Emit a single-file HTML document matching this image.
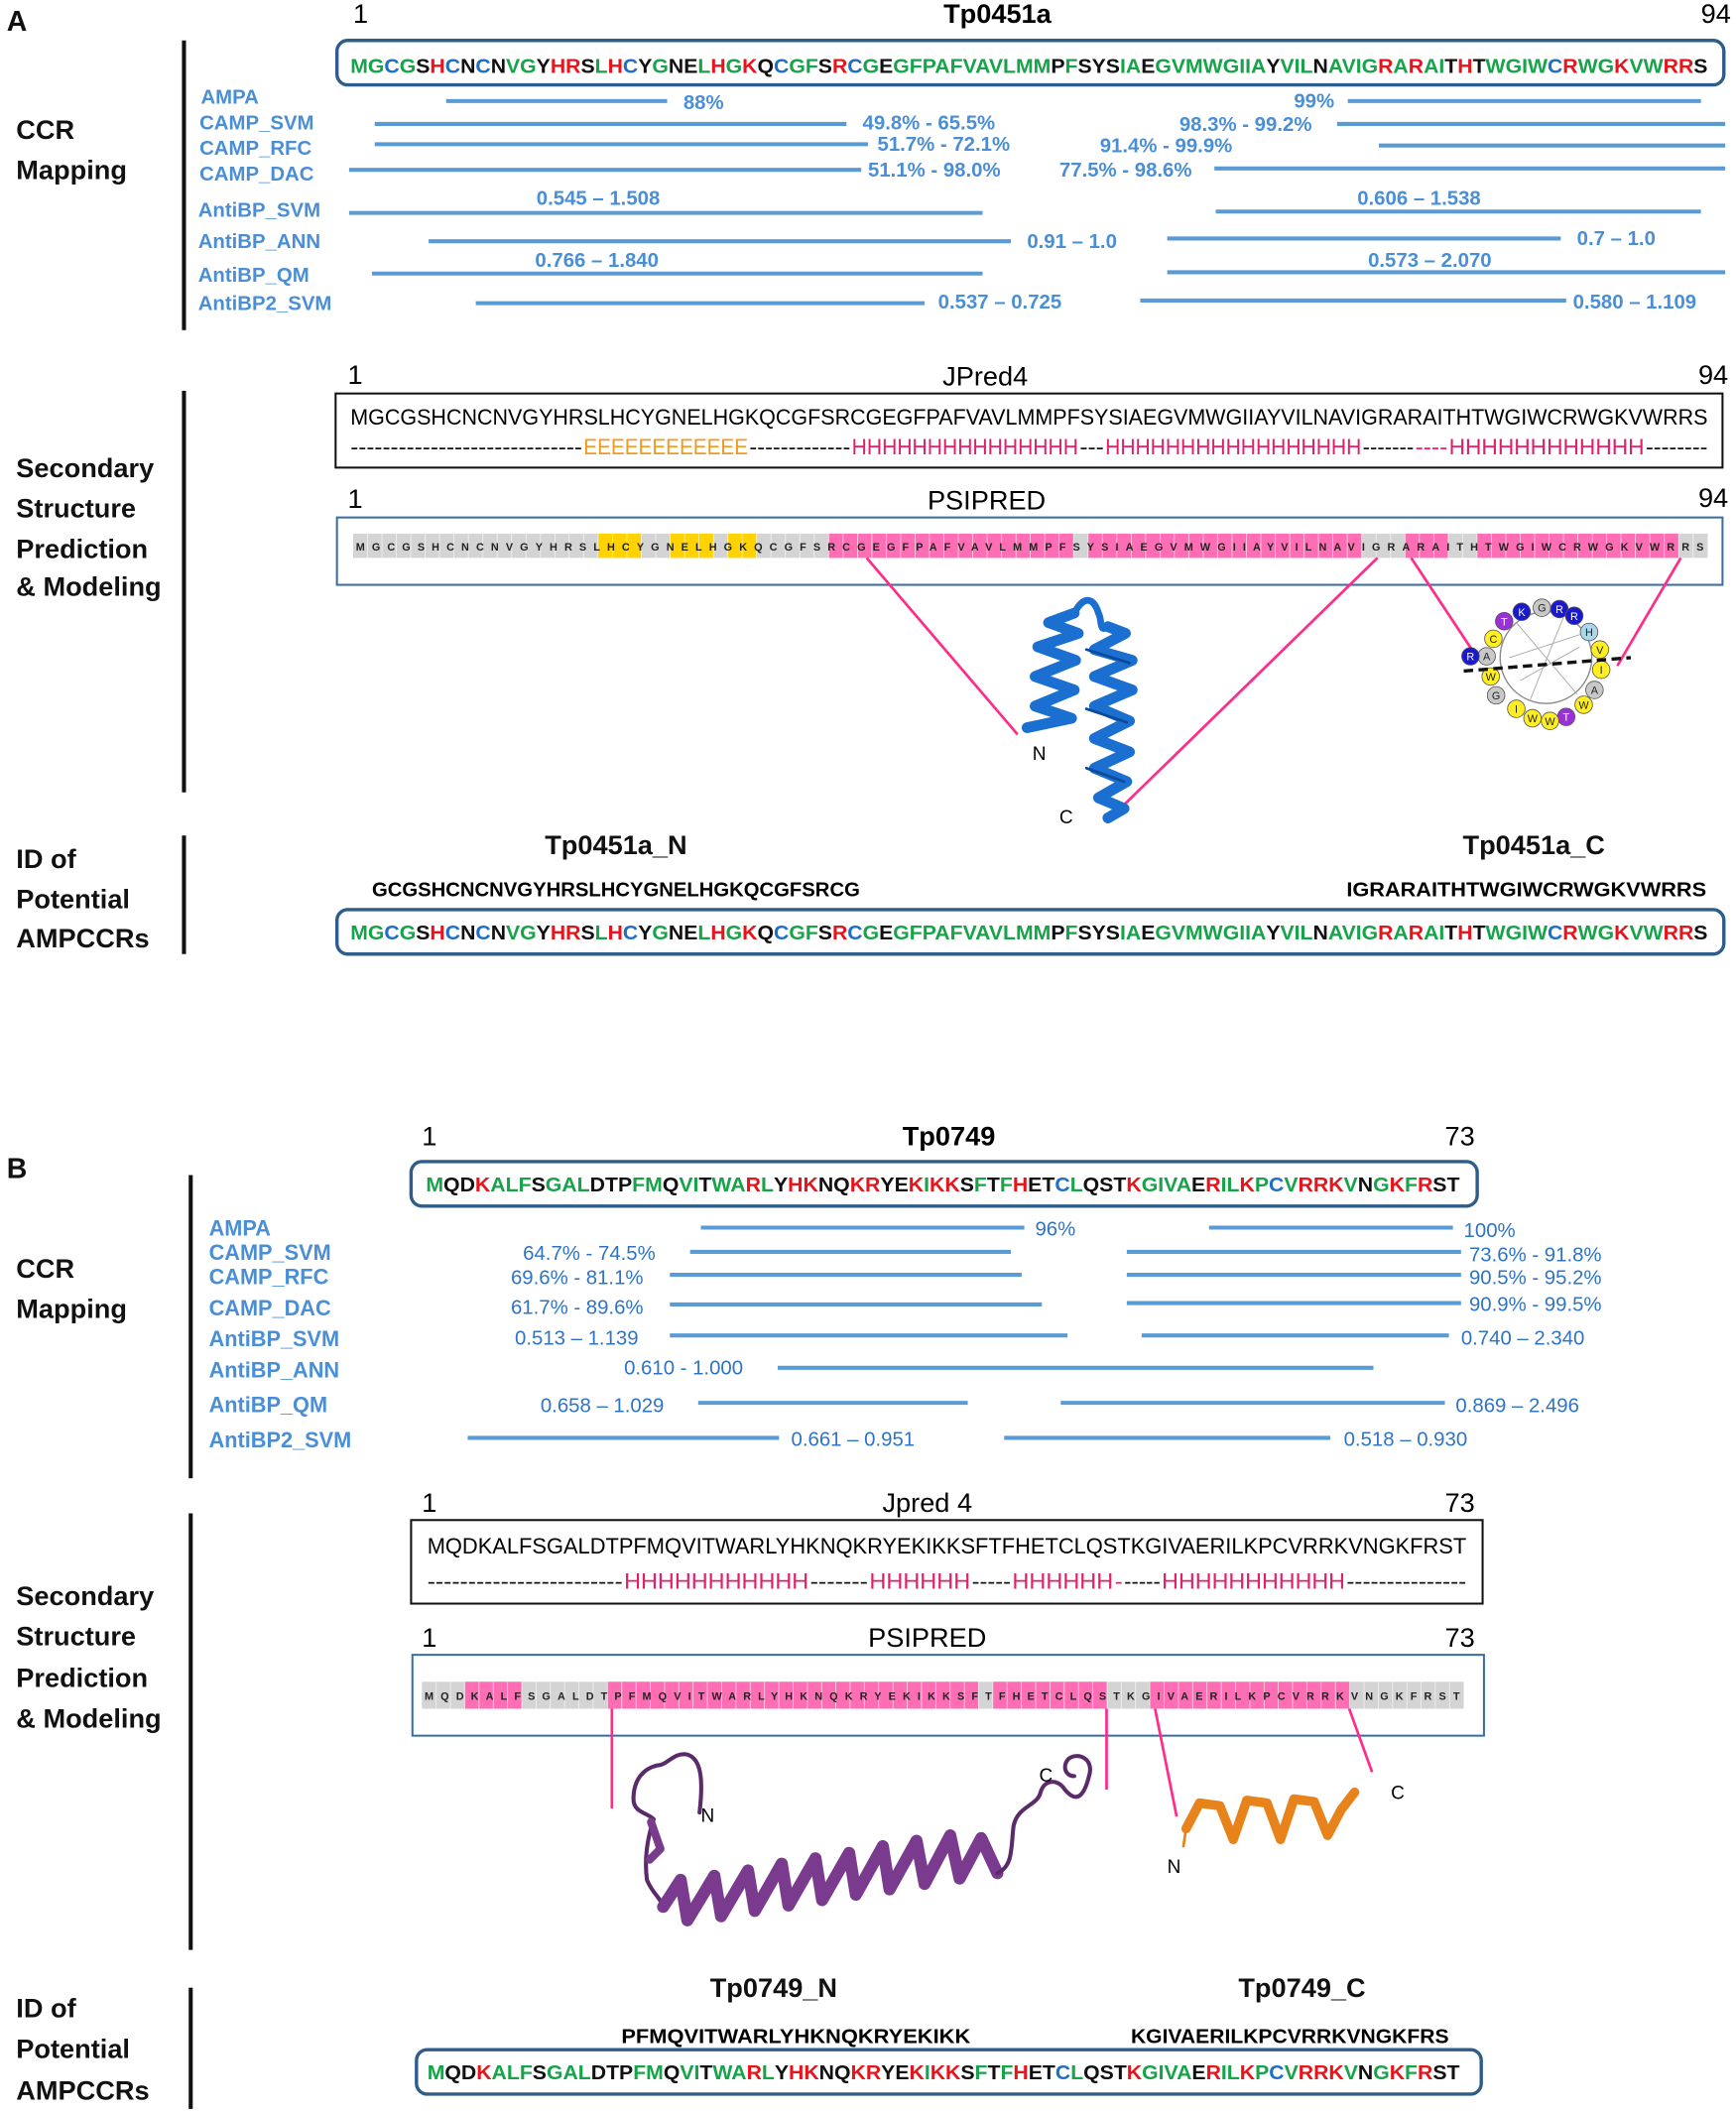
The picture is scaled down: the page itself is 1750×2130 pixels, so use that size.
<!DOCTYPE html>
<html><head><meta charset="utf-8">
<style>
html,body{margin:0;padding:0;background:#fff;}
svg{display:block;}
text{font-family:"Liberation Sans",sans-serif;}
.lab{fill:#4a8fd6;font-weight:bold;font-size:15px;}
.val{fill:#4a8fd6;font-weight:bold;font-size:15px;}
.valb{fill:#2f74c4;font-size:15px;}
.hd{font-weight:bold;font-size:20px;fill:#111;}
.ln{stroke:#5b9bd5;stroke-width:3;}
.g{fill:#17a34a}.r{fill:#e8141c}.b{fill:#1f6fc5}.k{fill:#111}
.cell{font-size:8px;font-weight:bold;fill:#222;}
.mg{stroke:#ff2d8a;stroke-width:2;fill:none;}
.ds{font-size:16px;fill:#111;}
.ee{font-size:16px;fill:#f29a1e;}
.hh{font-size:16px;fill:#e0206a;}
</style></head><body>
<svg width="1750" height="2130" viewBox="0 0 1288 1568" preserveAspectRatio="none" xmlns="http://www.w3.org/2000/svg">

<!-- ============ A ============ -->
<text x="5" y="23" class="hd" style="font-size:21px">A</text>
<text x="262" y="17" font-size="20">1</text>
<text x="740" y="17" font-size="20" font-weight="bold" text-anchor="middle">Tp0451a</text>
<text x="1262" y="17" font-size="20">94</text>
<rect x="250" y="30" width="1029" height="33" rx="8" fill="none" stroke="#2e5d8a" stroke-width="2.5"/>
<text x="260" y="54" font-size="15" font-weight="bold" textLength="1007" lengthAdjust="spacingAndGlyphs"><tspan class="g">MG</tspan><tspan class="b">C</tspan><tspan class="g">G</tspan><tspan class="k">S</tspan><tspan class="r">H</tspan><tspan class="b">C</tspan><tspan class="k">N</tspan><tspan class="b">C</tspan><tspan class="k">N</tspan><tspan class="g">VG</tspan><tspan class="k">Y</tspan><tspan class="r">HR</tspan><tspan class="k">S</tspan><tspan class="g">L</tspan><tspan class="r">H</tspan><tspan class="b">C</tspan><tspan class="k">Y</tspan><tspan class="g">G</tspan><tspan class="k">NE</tspan><tspan class="g">L</tspan><tspan class="r">H</tspan><tspan class="g">G</tspan><tspan class="r">K</tspan><tspan class="k">Q</tspan><tspan class="b">C</tspan><tspan class="g">GF</tspan><tspan class="k">S</tspan><tspan class="r">R</tspan><tspan class="b">C</tspan><tspan class="g">G</tspan><tspan class="k">E</tspan><tspan class="g">GFPAFVAVLMM</tspan><tspan class="k">P</tspan><tspan class="g">F</tspan><tspan class="k">SYS</tspan><tspan class="g">IA</tspan><tspan class="k">E</tspan><tspan class="g">GVMWGIIA</tspan><tspan class="k">Y</tspan><tspan class="g">VIL</tspan><tspan class="k">N</tspan><tspan class="g">AVIG</tspan><tspan class="r">R</tspan><tspan class="g">A</tspan><tspan class="r">R</tspan><tspan class="g">AI</tspan><tspan class="k">T</tspan><tspan class="r">H</tspan><tspan class="k">T</tspan><tspan class="g">WGIW</tspan><tspan class="b">C</tspan><tspan class="r">R</tspan><tspan class="g">WG</tspan><tspan class="r">K</tspan><tspan class="g">VW</tspan><tspan class="r">RR</tspan><tspan class="k">S</tspan></text>

<rect x="135" y="30" width="3" height="215" fill="#111"/>
<text x="12" y="103" class="hd">CCR</text>
<text x="12" y="133" class="hd">Mapping</text>

<text x="149" y="77" class="lab">AMPA</text>
<text x="148" y="96" class="lab">CAMP_SVM</text>
<text x="148" y="115" class="lab">CAMP_RFC</text>
<text x="148" y="134" class="lab">CAMP_DAC</text>
<text x="147" y="161" class="lab">AntiBP_SVM</text>
<text x="147" y="184" class="lab">AntiBP_ANN</text>
<text x="147" y="209" class="lab">AntiBP_QM</text>
<text x="147" y="230" class="lab">AntiBP2_SVM</text>

<g class="ln">
<line x1="331" y1="75" x2="495" y2="75"/><line x1="1000" y1="75" x2="1262" y2="75"/>
<line x1="278" y1="92" x2="628" y2="92"/><line x1="992" y1="92" x2="1280" y2="92"/>
<line x1="278" y1="107" x2="644" y2="107"/><line x1="1023" y1="108" x2="1280" y2="108"/>
<line x1="259" y1="126" x2="639" y2="126"/><line x1="901" y1="125" x2="1280" y2="125"/>
<line x1="259" y1="158" x2="729" y2="158"/><line x1="902" y1="157" x2="1262" y2="157"/>
<line x1="318" y1="179" x2="750" y2="179"/><line x1="866" y1="177" x2="1158" y2="177"/>
<line x1="276" y1="203" x2="729" y2="203"/><line x1="866" y1="202" x2="1280" y2="202"/>
<line x1="353" y1="225" x2="686" y2="225"/><line x1="846" y1="223" x2="1162" y2="223"/>
</g>
<text x="507" y="81" class="val">88%</text><text x="960" y="80" class="val">99%</text>
<text x="640" y="96" class="val">49.8% - 65.5%</text><text x="875" y="97" class="val">98.3% - 99.2%</text>
<text x="651" y="112" class="val">51.7% - 72.1%</text><text x="816" y="113" class="val">91.4% - 99.9%</text>
<text x="644" y="131" class="val">51.1% - 98.0%</text><text x="786" y="131" class="val">77.5% - 98.6%</text>
<text x="398" y="152" class="val">0.545 – 1.508</text><text x="1007" y="152" class="val">0.606 – 1.538</text>
<text x="762" y="184" class="val">0.91 – 1.0</text><text x="1170" y="182" class="val">0.7 – 1.0</text>
<text x="397" y="198" class="val">0.766 – 1.840</text><text x="1015" y="198" class="val">0.573 – 2.070</text>
<text x="696" y="229" class="val">0.537 – 0.725</text><text x="1167" y="229" class="val">0.580 – 1.109</text>

<!-- secondary A -->
<rect x="135" y="290" width="3" height="298" fill="#111"/>
<text x="12" y="354" class="hd">Secondary</text>
<text x="12" y="384" class="hd">Structure</text>
<text x="12" y="414" class="hd">Prediction</text>
<text x="12" y="442" class="hd">&amp; Modeling</text>

<text x="258" y="285" font-size="20">1</text>
<text x="731" y="286" font-size="20" text-anchor="middle">JPred4</text>
<text x="1260" y="285" font-size="20">94</text>
<rect x="249" y="292" width="1029" height="55" fill="none" stroke="#111" stroke-width="1.5"/>
<text x="260" y="315" font-size="16" textLength="1007" lengthAdjust="spacingAndGlyphs">MGCGSHCNCNVGYHRSLHCYGNELHGKQCGFSRCGEGFPAFVAVLMMPFSYSIAEGVMWGIIAYVILNAVIGRARAITHTWGIWCRWGKVWRRS</text>
<text x="260" y="337" class="ds" textLength="172" lengthAdjust="spacingAndGlyphs">-----------------------------</text>
<text x="433" y="337" class="ee" textLength="122" lengthAdjust="spacingAndGlyphs">EEEEEEEEEEEE</text>
<text x="556" y="337" class="ds" textLength="75" lengthAdjust="spacingAndGlyphs">-------------</text>
<text x="632" y="337" class="hh" textLength="168" lengthAdjust="spacingAndGlyphs">HHHHHHHHHHHHHHH</text>
<text x="801" y="337" class="ds" textLength="18" lengthAdjust="spacingAndGlyphs">---</text>
<text x="820" y="337" class="hh" textLength="190" lengthAdjust="spacingAndGlyphs">HHHHHHHHHHHHHHHHH</text>
<text x="1011" y="337" class="ds" textLength="38" lengthAdjust="spacingAndGlyphs">-------</text>
<text x="1050" y="337" class="hh" textLength="24" lengthAdjust="spacingAndGlyphs">----</text>
<text x="1075" y="337" class="hh" textLength="145" lengthAdjust="spacingAndGlyphs">HHHHHHHHHHHH</text>
<text x="1221" y="337" class="ds" textLength="46" lengthAdjust="spacingAndGlyphs">--------</text>

<text x="258" y="377" font-size="20">1</text>
<text x="732" y="378" font-size="20" text-anchor="middle">PSIPRED</text>
<text x="1260" y="376" font-size="20">94</text>
<rect x="250" y="384" width="1028" height="50" fill="none" stroke="#3a6ea5" stroke-width="1.5"/>
<rect x="262" y="396" width="1005" height="18" fill="#d4d4d4"/>
<rect x="443.7" y="396" width="32.1" height="18" fill="#ffd200"/>
<rect x="497.2" y="396" width="32.1" height="18" fill="#ffd200"/>
<rect x="539.9" y="396" width="21.4" height="18" fill="#ffd200"/>
<rect x="614.8" y="396" width="181.7" height="18" fill="#ff6eb4"/>
<rect x="807.2" y="396" width="203.1" height="18" fill="#ff6eb4"/>
<rect x="1042.4" y="396" width="32.1" height="18" fill="#ff6eb4"/>
<rect x="1095.8" y="396" width="149.7" height="18" fill="#ff6eb4"/>
<g stroke="#fff" stroke-width="0.6" opacity="0.7">
<path d="M272.7 396V414M283.4 396V414M294.1 396V414M304.8 396V414M315.5 396V414M326.1 396V414M336.8 396V414M347.5 396V414M358.2 396V414M368.9 396V414M379.6 396V414M390.3 396V414M401 396V414M411.7 396V414M422.3 396V414M433 396V414M443.7 396V414M454.4 396V414M465.1 396V414M475.8 396V414M486.5 396V414M497.2 396V414M507.9 396V414M518.6 396V414M529.3 396V414M540 396V414M550.6 396V414M561.3 396V414M572 396V414M582.7 396V414M593.4 396V414M604.1 396V414M614.8 396V414M625.5 396V414M636.2 396V414M646.9 396V414M657.5 396V414M668.2 396V414M678.9 396V414M689.6 396V414M700.3 396V414M711 396V414M721.7 396V414M732.4 396V414M743.1 396V414M753.8 396V414M764.4 396V414M775.1 396V414M785.8 396V414M796.5 396V414M807.2 396V414M817.9 396V414M828.6 396V414M839.3 396V414M850 396V414M860.7 396V414M871.3 396V414M882 396V414M892.7 396V414M903.4 396V414M914.1 396V414M924.8 396V414M935.5 396V414M946.2 396V414M956.9 396V414M967.6 396V414M978.2 396V414M988.9 396V414M999.6 396V414M1010.3 396V414M1021 396V414M1031.7 396V414M1042.4 396V414M1053.1 396V414M1063.8 396V414M1074.5 396V414M1085.1 396V414M1095.8 396V414M1106.5 396V414M1117.2 396V414M1127.9 396V414M1138.6 396V414M1149.3 396V414M1160 396V414M1170.7 396V414M1181.4 396V414M1192 396V414M1202.7 396V414M1213.4 396V414M1224.1 396V414M1234.8 396V414M1245.5 396V414M1256.2 396V414"/>
</g>
<text x="264" y="408.5" class="cell" textLength="1000" lengthAdjust="spacing">MGCGSHCNCNVGYHRSLHCYGNELHGKQCGFSRCGEGFPAFVAVLMMPFSYSIAEGVMWGIIAYVILNAVIGRARAITHTWGIWCRWGKVWRRS</text>

<line class="mg" x1="643" y1="414" x2="755" y2="545"/>
<line class="mg" x1="1022" y1="414" x2="826" y2="605"/>
<line class="mg" x1="1047" y1="414" x2="1092" y2="482"/>
<line class="mg" x1="1247" y1="414" x2="1200" y2="494"/>

<!-- blue protein -->
<g fill="none" stroke-linecap="round" stroke-linejoin="round">
<path d="M797 455 L778 462 L800 470 L770 480 L798 490 L768 502 L797 512 L768 524 L795 533 L762 540" stroke="#1a6fd0" stroke-width="8"/>
<path d="M797 455 C805 440 812 445 815 455 C818 460 815 470 822 465" stroke="#1a6fd0" stroke-width="5"/>
<path d="M822 465 L835 470 L812 482 L840 490 L812 502 L840 512 L812 524 L838 535 L812 548 L838 558 L812 570 L836 580 L815 592 L834 600 L822 607" stroke="#1a6fd0" stroke-width="8"/>
<path d="M806 482 L838 492 M806 526 L836 536 M806 570 L834 580" stroke="#0d4a9a" stroke-width="2"/>
</g>
<text x="766" y="564" font-size="14">N</text>
<text x="786" y="611" font-size="14">C</text>

<!-- helical wheel -->
<g>
<circle cx="1147" cy="488" r="34" fill="none" stroke="#888" stroke-width="1"/>
<path d="M1125 462 L1170 515 M1120 488 L1175 470 M1135 520 L1160 458 M1128 505 L1172 480" stroke="#aaa" stroke-width="0.7"/>
<g stroke="#555" stroke-width="0.6">
<circle cx="1144" cy="451" r="6.5" fill="#c8c8c8"/><circle cx="1157" cy="452" r="6.5" fill="#1a1acc"/><circle cx="1168" cy="457" r="6.5" fill="#1a1acc"/>
<circle cx="1179" cy="469" r="6.5" fill="#a8d8ec"/><circle cx="1187" cy="482" r="6.5" fill="#ffee22"/><circle cx="1188" cy="497" r="6.5" fill="#ffee22"/>
<circle cx="1183" cy="512" r="6.5" fill="#c8c8c8"/><circle cx="1175" cy="523" r="6.5" fill="#ffee22"/><circle cx="1162" cy="532" r="6.5" fill="#9b30d8"/>
<circle cx="1150" cy="535" r="6.5" fill="#ffee22"/><circle cx="1137" cy="533" r="6.5" fill="#ffee22"/><circle cx="1125" cy="526" r="6.5" fill="#ffee22"/>
<circle cx="1110" cy="516" r="6.5" fill="#c8c8c8"/><circle cx="1106" cy="502" r="6.5" fill="#ffee22"/><circle cx="1103" cy="487" r="6.5" fill="#c8c8c8"/>
<circle cx="1091" cy="487" r="6.5" fill="#1a1acc"/><circle cx="1108" cy="474" r="6.5" fill="#ffee22"/><circle cx="1116" cy="461" r="6.5" fill="#9b30d8"/><circle cx="1129" cy="454" r="6.5" fill="#1a1acc"/>
</g>
<g font-size="8" text-anchor="middle" fill="#222">
<text x="1144" y="454">G</text><text x="1157" y="455" fill="#fff">R</text><text x="1168" y="460" fill="#fff">R</text><text x="1179" y="472">H</text><text x="1187" y="485">V</text><text x="1188" y="500">I</text><text x="1183" y="515">A</text><text x="1175" y="526">W</text><text x="1162" y="535" fill="#fff">T</text><text x="1150" y="538">W</text><text x="1137" y="536">W</text><text x="1125" y="529">I</text><text x="1110" y="519">G</text><text x="1106" y="505">W</text><text x="1103" y="490">A</text><text x="1091" y="490" fill="#fff">R</text><text x="1108" y="477">C</text><text x="1116" y="464" fill="#fff">T</text><text x="1129" y="457" fill="#fff">K</text>
</g>
<line x1="1086" y1="498" x2="1210" y2="488" stroke="#111" stroke-width="2.5" stroke-dasharray="7,4"/>
</g>

<!-- ID A -->
<rect x="135" y="620" width="3" height="88" fill="#111"/>
<text x="12" y="644" class="hd">ID of</text>
<text x="12" y="674" class="hd">Potential</text>
<text x="12" y="703" class="hd">AMPCCRs</text>
<text x="457" y="634" class="hd" text-anchor="middle">Tp0451a_N</text>
<text x="1138" y="634" class="hd" text-anchor="middle">Tp0451a_C</text>
<text x="276" y="665" font-size="15" font-weight="bold" textLength="362" lengthAdjust="spacingAndGlyphs">GCGSHCNCNVGYHRSLHCYGNELHGKQCGFSRCG</text>
<text x="999" y="665" font-size="15" font-weight="bold" textLength="267" lengthAdjust="spacingAndGlyphs">IGRARAITHTWGIWCRWGKVWRRS</text>
<rect x="250" y="675" width="1029" height="33" rx="8" fill="none" stroke="#2e5d8a" stroke-width="2.5"/>
<text x="260" y="697" font-size="15" font-weight="bold" textLength="1007" lengthAdjust="spacingAndGlyphs"><tspan class="g">MG</tspan><tspan class="b">C</tspan><tspan class="g">G</tspan><tspan class="k">S</tspan><tspan class="r">H</tspan><tspan class="b">C</tspan><tspan class="k">N</tspan><tspan class="b">C</tspan><tspan class="k">N</tspan><tspan class="g">VG</tspan><tspan class="k">Y</tspan><tspan class="r">HR</tspan><tspan class="k">S</tspan><tspan class="g">L</tspan><tspan class="r">H</tspan><tspan class="b">C</tspan><tspan class="k">Y</tspan><tspan class="g">G</tspan><tspan class="k">NE</tspan><tspan class="g">L</tspan><tspan class="r">H</tspan><tspan class="g">G</tspan><tspan class="r">K</tspan><tspan class="k">Q</tspan><tspan class="b">C</tspan><tspan class="g">GF</tspan><tspan class="k">S</tspan><tspan class="r">R</tspan><tspan class="b">C</tspan><tspan class="g">G</tspan><tspan class="k">E</tspan><tspan class="g">GFPAFVAVLMM</tspan><tspan class="k">P</tspan><tspan class="g">F</tspan><tspan class="k">SYS</tspan><tspan class="g">IA</tspan><tspan class="k">E</tspan><tspan class="g">GVMWGIIA</tspan><tspan class="k">Y</tspan><tspan class="g">VIL</tspan><tspan class="k">N</tspan><tspan class="g">AVIG</tspan><tspan class="r">R</tspan><tspan class="g">A</tspan><tspan class="r">R</tspan><tspan class="g">AI</tspan><tspan class="k">T</tspan><tspan class="r">H</tspan><tspan class="k">T</tspan><tspan class="g">WGIW</tspan><tspan class="b">C</tspan><tspan class="r">R</tspan><tspan class="g">WG</tspan><tspan class="r">K</tspan><tspan class="g">VW</tspan><tspan class="r">RR</tspan><tspan class="k">S</tspan></text>

<!-- ============ B ============ -->
<text x="5" y="874" class="hd" style="font-size:21px">B</text>
<text x="313" y="850" font-size="20">1</text>
<text x="704" y="850" font-size="20" font-weight="bold" text-anchor="middle">Tp0749</text>
<text x="1072" y="850" font-size="20">73</text>
<rect x="305" y="862" width="791" height="33" rx="8" fill="none" stroke="#2e5d8a" stroke-width="2.5"/>
<text x="316" y="884" font-size="15" font-weight="bold" textLength="767" lengthAdjust="spacingAndGlyphs"><tspan class="g">M</tspan><tspan class="k">QD</tspan><tspan class="r">K</tspan><tspan class="g">ALF</tspan><tspan class="k">S</tspan><tspan class="g">GAL</tspan><tspan class="k">DTP</tspan><tspan class="g">FM</tspan><tspan class="k">Q</tspan><tspan class="g">VI</tspan><tspan class="k">T</tspan><tspan class="g">WA</tspan><tspan class="r">R</tspan><tspan class="g">L</tspan><tspan class="k">Y</tspan><tspan class="r">HK</tspan><tspan class="k">NQ</tspan><tspan class="r">KR</tspan><tspan class="k">YE</tspan><tspan class="r">K</tspan><tspan class="g">I</tspan><tspan class="r">KK</tspan><tspan class="k">S</tspan><tspan class="g">F</tspan><tspan class="k">T</tspan><tspan class="g">F</tspan><tspan class="r">H</tspan><tspan class="k">ET</tspan><tspan class="b">C</tspan><tspan class="g">L</tspan><tspan class="k">QST</tspan><tspan class="r">K</tspan><tspan class="g">GIVA</tspan><tspan class="k">E</tspan><tspan class="r">R</tspan><tspan class="g">IL</tspan><tspan class="r">K</tspan><tspan class="g">P</tspan><tspan class="b">C</tspan><tspan class="g">V</tspan><tspan class="r">RRK</tspan><tspan class="g">V</tspan><tspan class="k">N</tspan><tspan class="g">G</tspan><tspan class="r">K</tspan><tspan class="g">F</tspan><tspan class="r">R</tspan><tspan class="k">ST</tspan></text>

<rect x="140" y="872" width="3" height="225" fill="#111"/>
<text x="12" y="948" class="hd">CCR</text>
<text x="12" y="978" class="hd">Mapping</text>
<text x="155" y="917" class="lab" style="font-size:16px">AMPA</text>
<text x="155" y="935" class="lab" style="font-size:16px">CAMP_SVM</text>
<text x="155" y="953" class="lab" style="font-size:16px">CAMP_RFC</text>
<text x="155" y="976" class="lab" style="font-size:16px">CAMP_DAC</text>
<text x="155" y="999" class="lab" style="font-size:16px">AntiBP_SVM</text>
<text x="155" y="1022" class="lab" style="font-size:16px">AntiBP_ANN</text>
<text x="155" y="1048" class="lab" style="font-size:16px">AntiBP_QM</text>
<text x="155" y="1074" class="lab" style="font-size:16px">AntiBP2_SVM</text>

<g class="ln">
<line x1="520" y1="911" x2="760" y2="911"/><line x1="897" y1="911" x2="1078" y2="911"/>
<line x1="512" y1="929" x2="750" y2="929"/><line x1="836" y1="929" x2="1084" y2="929"/>
<line x1="497" y1="946" x2="758" y2="946"/><line x1="836" y1="946" x2="1084" y2="946"/>
<line x1="497" y1="968" x2="773" y2="968"/><line x1="836" y1="967" x2="1084" y2="967"/>
<line x1="497" y1="991" x2="792" y2="991"/><line x1="847" y1="991" x2="1075" y2="991"/>
<line x1="577" y1="1015" x2="1019" y2="1015"/>
<line x1="518" y1="1041" x2="718" y2="1041"/><line x1="787" y1="1041" x2="1072" y2="1041"/>
<line x1="347" y1="1067" x2="578" y2="1067"/><line x1="745" y1="1067" x2="987" y2="1067"/>
</g>
<text x="768" y="917" class="valb">96%</text><text x="1086" y="918" class="valb">100%</text>
<text x="388" y="935" class="valb">64.7% - 74.5%</text><text x="1090" y="936" class="valb">73.6% - 91.8%</text>
<text x="379" y="953" class="valb">69.6% - 81.1%</text><text x="1090" y="953" class="valb">90.5% - 95.2%</text>
<text x="379" y="975" class="valb">61.7% - 89.6%</text><text x="1090" y="973" class="valb">90.9% - 99.5%</text>
<text x="382" y="998" class="valb">0.513 – 1.139</text><text x="1084" y="998" class="valb">0.740 – 2.340</text>
<text x="463" y="1020" class="valb">0.610 - 1.000</text>
<text x="401" y="1048" class="valb">0.658 – 1.029</text><text x="1080" y="1048" class="valb">0.869 – 2.496</text>
<text x="587" y="1073" class="valb">0.661 – 0.951</text><text x="997" y="1073" class="valb">0.518 – 0.930</text>

<!-- secondary B -->
<rect x="140" y="1123" width="3" height="324" fill="#111"/>
<text x="12" y="1191" class="hd">Secondary</text>
<text x="12" y="1221" class="hd">Structure</text>
<text x="12" y="1252" class="hd">Prediction</text>
<text x="12" y="1282" class="hd">&amp; Modeling</text>

<text x="313" y="1122" font-size="20">1</text>
<text x="688" y="1122" font-size="20" text-anchor="middle">Jpred 4</text>
<text x="1072" y="1122" font-size="20">73</text>
<rect x="305" y="1128" width="795" height="62" fill="none" stroke="#111" stroke-width="1.5"/>
<text x="317" y="1153" font-size="16" textLength="771" lengthAdjust="spacingAndGlyphs">MQDKALFSGALDTPFMQVITWARLYHKNQKRYEKIKKSFTFHETCLQSTKGIVAERILKPCVRRKVNGKFRST</text>
<text x="317" y="1179" class="ds" textLength="145" lengthAdjust="spacingAndGlyphs">------------------------</text>
<text x="463" y="1179" class="hh" textLength="137" lengthAdjust="spacingAndGlyphs">HHHHHHHHHHH</text>
<text x="601" y="1179" class="ds" textLength="43" lengthAdjust="spacingAndGlyphs">-------</text>
<text x="645" y="1179" class="hh" textLength="75" lengthAdjust="spacingAndGlyphs">HHHHHH</text>
<text x="721" y="1179" class="ds" textLength="29" lengthAdjust="spacingAndGlyphs">-----</text>
<text x="751" y="1179" class="hh" textLength="75" lengthAdjust="spacingAndGlyphs">HHHHHH</text>
<text x="827" y="1179" class="hh" textLength="6" lengthAdjust="spacingAndGlyphs">-</text>
<text x="834" y="1179" class="ds" textLength="27" lengthAdjust="spacingAndGlyphs">-----</text>
<text x="862" y="1179" class="hh" textLength="136" lengthAdjust="spacingAndGlyphs">HHHHHHHHHHH</text>
<text x="999" y="1179" class="ds" textLength="89" lengthAdjust="spacingAndGlyphs">---------------</text>

<text x="313" y="1222" font-size="20">1</text>
<text x="688" y="1222" font-size="20" text-anchor="middle">PSIPRED</text>
<text x="1072" y="1222" font-size="20">73</text>
<rect x="306" y="1228" width="795" height="60" fill="none" stroke="#3a6ea5" stroke-width="1.5"/>
<rect x="313" y="1248" width="773" height="20" fill="#d4d4d4"/>
<rect x="344.8" y="1248" width="42.4" height="20" fill="#ff6eb4"/>
<rect x="450.7" y="1248" width="275.3" height="20" fill="#ff6eb4"/>
<rect x="736.6" y="1248" width="84.7" height="20" fill="#ff6eb4"/>
<rect x="853.1" y="1248" width="148.3" height="20" fill="#ff6eb4"/>
<g stroke="#fff" stroke-width="0.6" opacity="0.7">
<path d="M323.6 1248V1268M334.2 1248V1268M344.8 1248V1268M355.4 1248V1268M366 1248V1268M376.6 1248V1268M387.1 1248V1268M397.7 1248V1268M408.3 1248V1268M418.9 1248V1268M429.5 1248V1268M440.1 1248V1268M450.7 1248V1268M461.3 1248V1268M471.9 1248V1268M482.5 1248V1268M493.1 1248V1268M503.6 1248V1268M514.2 1248V1268M524.8 1248V1268M535.4 1248V1268M546 1248V1268M556.6 1248V1268M567.2 1248V1268M577.8 1248V1268M588.4 1248V1268M599 1248V1268M609.6 1248V1268M620.1 1248V1268M630.7 1248V1268M641.3 1248V1268M651.9 1248V1268M662.5 1248V1268M673.1 1248V1268M683.7 1248V1268M694.3 1248V1268M704.9 1248V1268M715.5 1248V1268M726 1248V1268M736.6 1248V1268M747.2 1248V1268M757.8 1248V1268M768.4 1248V1268M779 1248V1268M789.6 1248V1268M800.2 1248V1268M810.8 1248V1268M821.4 1248V1268M831.9 1248V1268M842.5 1248V1268M853.1 1248V1268M863.7 1248V1268M874.3 1248V1268M884.9 1248V1268M895.5 1248V1268M906.1 1248V1268M916.7 1248V1268M927.3 1248V1268M937.9 1248V1268M948.4 1248V1268M959 1248V1268M969.6 1248V1268M980.2 1248V1268M990.8 1248V1268M1001.4 1248V1268M1012 1248V1268M1022.6 1248V1268M1033.2 1248V1268M1043.8 1248V1268M1054.3 1248V1268M1064.9 1248V1268M1075.5 1248V1268"/>
</g>
<text x="315" y="1261.5" class="cell" textLength="768" lengthAdjust="spacing">MQDKALFSGALDTPFMQVITWARLYHKNQKRYEKIKKSFTFHETCLQSTKGIVAERILKPCVRRKVNGKFRST</text>

<line class="mg" x1="454" y1="1268" x2="454" y2="1342"/>
<line class="mg" x1="821" y1="1268" x2="821" y2="1328"/>
<line class="mg" x1="857" y1="1268" x2="873" y2="1348"/>
<line class="mg" x1="1001" y1="1268" x2="1018" y2="1315"/>

<!-- purple protein -->
<g fill="none" stroke-linecap="round" stroke-linejoin="round">
<path d="M519 1345 C522 1320 520 1305 510 1302 C500 1300 495 1310 488 1310 C478 1312 470 1320 470 1335 C470 1345 480 1345 485 1350 C480 1365 478 1380 480 1395 C484 1405 490 1408 492 1415" stroke="#5a2a6a" stroke-width="3"/>
<path d="M483 1352 L490 1372 L482 1380" stroke="#7a3b8f" stroke-width="6"/>
<path d="M492 1415 L505 1395 L510 1425 L530 1392 L535 1422 L555 1388 L560 1418 L580 1383 L585 1414 L605 1379 L610 1410 L630 1375 L635 1406 L655 1370 L660 1402 L680 1366 L686 1398 L705 1362 L712 1394 L728 1364 L740 1390" stroke="#7a3b8f" stroke-width="9"/>
<path d="M740 1390 C752 1385 750 1370 752 1355 C755 1340 770 1340 772 1330 C775 1320 785 1320 790 1328 C800 1340 805 1330 808 1318 C812 1305 800 1300 793 1305 C788 1310 790 1318 797 1318" stroke="#5a2a6a" stroke-width="3"/>
</g>
<text x="520" y="1352" font-size="14">N</text>
<text x="771" y="1322" font-size="14">C</text>

<!-- orange helix -->
<g fill="none" stroke-linecap="round" stroke-linejoin="round">
<path d="M880 1357 L890 1338 L905 1340 L915 1365 L925 1336 L940 1338 L950 1365 L960 1335 L975 1337 L985 1362 L995 1343 L1005 1330" stroke="#e8821a" stroke-width="7"/>
<path d="M880 1357 L878 1370" stroke="#e8821a" stroke-width="2"/>
</g>
<text x="866" y="1390" font-size="14">N</text>
<text x="1032" y="1335" font-size="14">C</text>

<!-- ID B -->
<rect x="140" y="1475" width="3" height="90" fill="#111"/>
<text x="12" y="1497" class="hd">ID of</text>
<text x="12" y="1527" class="hd">Potential</text>
<text x="12" y="1558" class="hd">AMPCCRs</text>
<text x="574" y="1482" class="hd" text-anchor="middle">Tp0749_N</text>
<text x="966" y="1482" class="hd" text-anchor="middle">Tp0749_C</text>
<text x="461" y="1516" font-size="15" font-weight="bold" textLength="259" lengthAdjust="spacingAndGlyphs">PFMQVITWARLYHKNQKRYEKIKK</text>
<text x="839" y="1516" font-size="15" font-weight="bold" textLength="236" lengthAdjust="spacingAndGlyphs">KGIVAERILKPCVRRKVNGKFRS</text>
<rect x="309" y="1521" width="790" height="33" rx="8" fill="none" stroke="#2e5d8a" stroke-width="2.5"/>
<text x="317" y="1543" font-size="15" font-weight="bold" textLength="766" lengthAdjust="spacingAndGlyphs"><tspan class="g">M</tspan><tspan class="k">QD</tspan><tspan class="r">K</tspan><tspan class="g">ALF</tspan><tspan class="k">S</tspan><tspan class="g">GAL</tspan><tspan class="k">DTP</tspan><tspan class="g">FM</tspan><tspan class="k">Q</tspan><tspan class="g">VI</tspan><tspan class="k">T</tspan><tspan class="g">WA</tspan><tspan class="r">R</tspan><tspan class="g">L</tspan><tspan class="k">Y</tspan><tspan class="r">HK</tspan><tspan class="k">NQ</tspan><tspan class="r">KR</tspan><tspan class="k">YE</tspan><tspan class="r">K</tspan><tspan class="g">I</tspan><tspan class="r">KK</tspan><tspan class="k">S</tspan><tspan class="g">F</tspan><tspan class="k">T</tspan><tspan class="g">F</tspan><tspan class="r">H</tspan><tspan class="k">ET</tspan><tspan class="b">C</tspan><tspan class="g">L</tspan><tspan class="k">QST</tspan><tspan class="r">K</tspan><tspan class="g">GIVA</tspan><tspan class="k">E</tspan><tspan class="r">R</tspan><tspan class="g">IL</tspan><tspan class="r">K</tspan><tspan class="g">P</tspan><tspan class="b">C</tspan><tspan class="g">V</tspan><tspan class="r">RRK</tspan><tspan class="g">V</tspan><tspan class="k">N</tspan><tspan class="g">G</tspan><tspan class="r">K</tspan><tspan class="g">F</tspan><tspan class="r">R</tspan><tspan class="k">ST</tspan></text>

</svg>
</body></html>
